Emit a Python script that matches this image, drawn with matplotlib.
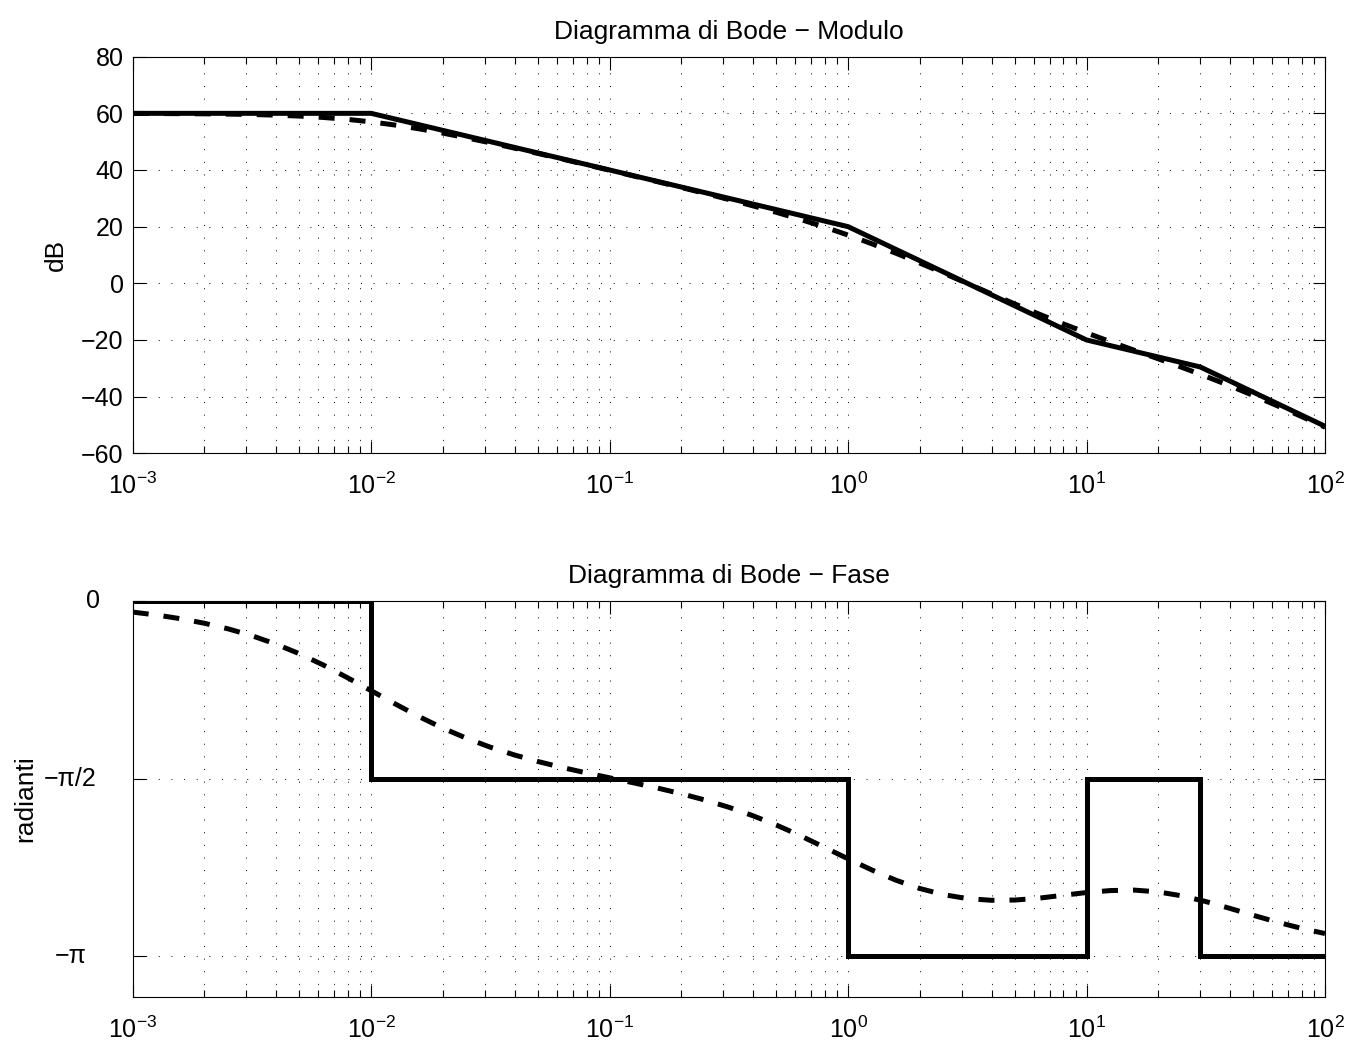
import matplotlib
matplotlib.use("Agg")
import matplotlib.pyplot as plt
import numpy as np
from matplotlib.ticker import FixedLocator, LogLocator, NullFormatter, LogFormatterMathtext

# ---------------- data ----------------
# frequency samples (rad/s) for the exact curves
omega = [1.000e-3, 1.259e-3, 1.585e-3, 1.995e-3, 2.512e-3, 3.162e-3, 3.981e-3, 5.012e-3, 6.310e-3, 7.943e-3,
         1.000e-2, 1.259e-2, 1.585e-2, 1.995e-2, 2.512e-2, 3.162e-2, 3.981e-2, 5.012e-2, 6.310e-2, 7.943e-2,
         1.000e-1, 1.259e-1, 1.585e-1, 1.995e-1, 2.512e-1, 3.162e-1, 3.981e-1, 5.012e-1, 6.310e-1, 7.943e-1,
         1.000, 1.259, 1.585, 1.995, 2.512, 3.162, 3.981, 5.012, 6.310, 7.943,
         10.00, 12.59, 15.85, 19.95, 25.12, 31.62, 39.81, 50.12, 63.10, 79.43,
         100.0]
# exact magnitude (dB), dashed
mag_exact = [59.957, 59.932, 59.892, 59.830, 59.734, 59.586, 59.361, 59.027, 58.544, 57.875,
             56.989, 55.875, 54.544, 53.025, 51.358, 49.582, 47.727, 45.820, 43.875, 41.905,
             39.914, 37.905, 35.876, 33.821, 31.730, 29.586, 27.365, 25.035, 22.559, 19.899,
             17.028, 13.936, 10.640, 7.177, 3.597, -0.048, -3.703, -7.316, -10.840, -14.238,
             -17.490, -20.607, -23.631, -26.628, -29.675, -32.836, -36.148, -39.620, -43.236, -46.969,
             -50.789]
# exact phase (rad), dashed
phase_exact = [-0.1006, -0.1264, -0.1587, -0.1988, -0.2484, -0.3093, -0.3828, -0.4692, -0.5688, -0.6793,
               -0.7947, -0.9106, -1.0228, -1.1249, -1.2151, -1.2940, -1.3619, -1.4206, -1.4724, -1.5196,
               -1.5641, -1.6084, -1.6544, -1.7044, -1.7604, -1.8244, -1.8983, -1.9820, -2.0758, -2.1773,
               -2.2799, -2.3785, -2.4681, -2.5415, -2.5960, -2.6309, -2.6458, -2.6437, -2.6273, -2.6020,
               -2.5773, -2.5600, -2.5560, -2.5717, -2.6068, -2.6569, -2.7166, -2.7790, -2.8389, -2.8930,
               -2.9397]
# asymptotic magnitude (solid): breakpoints and values
asym_w = [1e-3, 1e-2, 1.0, 10.0, 30.0, 100.0]
asym_mag = [60.0, 60.0, 20.0, -20.0, -29.54, -50.46]
# asymptotic phase (solid): interval edges and levels in units of pi
phase_edges = [1e-3, 1e-2, 1.0, 10.0, 30.0, 100.0]
phase_levels_pi = [0.0, -0.5, -1.0, -0.5, -1.0]

mag_yticks = [-60, -40, -20, 0, 20, 40, 60, 80]
phase_ticks_pi = [-1.0, -0.5, 0.0]
phase_ticklabels = ["\u2212\u03c0", "\u2212\u03c0/2", "0"]

title_mag = "Diagramma di Bode \u2212 Modulo"
title_phase = "Diagramma di Bode \u2212 Fase"
ylabel_mag = "dB"
ylabel_phase = "radianti"

# ---------------- style ----------------
plt.rcParams["font.family"] = ["Liberation Sans", "DejaVu Sans"]
plt.rcParams["mathtext.fontset"] = "custom"
plt.rcParams["mathtext.rm"] = "Liberation Sans"
plt.rcParams["mathtext.it"] = "Liberation Sans:italic"
plt.rcParams["mathtext.bf"] = "Liberation Sans:bold"
plt.rcParams["axes.linewidth"] = 0.8

FS = 18
LW = 3.6
DASH = (0, (3.2, 3.0))

fig = plt.figure(figsize=(13.46, 10.42), dpi=100)
ax1 = fig.add_axes([0.0986, 0.5650, 0.8858, 0.3806])
ax2 = fig.add_axes([0.0986, 0.0432, 0.8858, 0.3803])


def style(ax):
    ax.set_xscale("log")
    ax.set_xlim(1e-3, 1e2)
    ax.xaxis.set_major_locator(LogLocator(base=10, numticks=20))
    ax.xaxis.set_minor_locator(LogLocator(base=10, subs=np.arange(2, 10), numticks=20))
    ax.xaxis.set_major_formatter(LogFormatterMathtext())
    ax.xaxis.set_minor_formatter(NullFormatter())
    ax.tick_params(which="both", direction="in", top=True, right=True, colors="black",
                   width=0.8, labelsize=FS)
    ax.tick_params(which="major", length=9)
    ax.tick_params(which="minor", length=5)
    ax.tick_params(axis="x", which="major", pad=14)
    ax.tick_params(axis="y", which="major", pad=6.5)
    gkw = dict(color="black", linewidth=0.7, linestyle=(0, (1, 12)))
    ax.grid(True, which="major", axis="both", **gkw)
    ax.grid(True, which="minor", axis="x", **gkw)
    ax.set_axisbelow(True)
    for s in ax.spines.values():
        s.set_color("black")


# ---- magnitude ----
style(ax1)
ax1.plot(omega, mag_exact, color="black", lw=LW, linestyle=DASH, dash_capstyle="butt")
ax1.plot(asym_w, asym_mag, color="black", lw=LW, solid_joinstyle="miter")
ax1.set_ylim(-60, 80)
ax1.yaxis.set_major_locator(FixedLocator(mag_yticks))
ax1.set_title(title_mag, fontsize=FS + 1, pad=13)
ax1.set_ylabel(ylabel_mag, fontsize=FS + 1)
ax1.yaxis.set_label_coords(-0.0545, 0.5)

# ---- phase ----
style(ax2)
ax2.plot(omega, phase_exact, color="black", lw=LW, linestyle=DASH, dash_capstyle="butt")
ax2.stairs(np.array(phase_levels_pi) * np.pi, phase_edges, baseline=None,
           color="black", lw=LW)
ax2.set_ylim(-3.5, 0)
ax2.yaxis.set_major_locator(FixedLocator(np.array(phase_ticks_pi) * np.pi))
ax2.yaxis.set_major_formatter(NullFormatter())
label_x = {"0": -0.0277, "\u2212\u03c0/2": -0.030, "\u2212\u03c0": -0.039}
for v, lab in zip(phase_ticks_pi, phase_ticklabels):
    ax2.text(label_x[lab], v * np.pi, lab, transform=ax2.get_yaxis_transform(),
             ha="right", va="center", fontsize=FS)
ax2.set_title(title_phase, fontsize=FS + 1, pad=13)
ax2.set_ylabel(ylabel_phase, fontsize=FS + 1)
ax2.yaxis.set_label_coords(-0.0797, 0.5)

fig.savefig("out.png", dpi=100)
